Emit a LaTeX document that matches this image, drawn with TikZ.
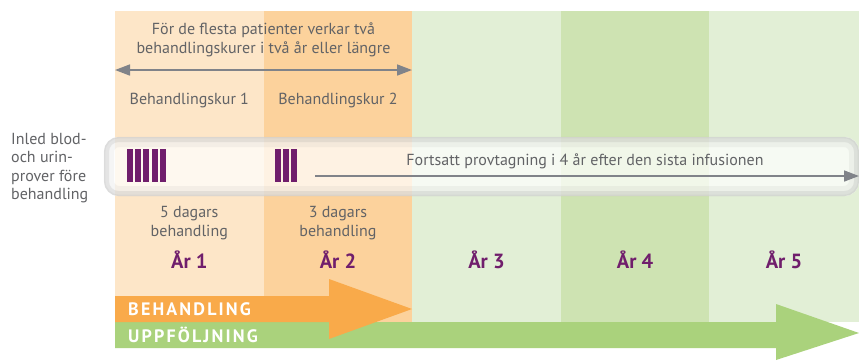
\documentclass[tikz,border=0pt]{standalone}
\usepackage{fontspec}
\setmainfont{PT Sans}
\newfontfamily\capsfont[LetterSpace=12]{PT Sans}
\usetikzlibrary{arrows.meta}
\definecolor{peachA}{HTML}{FDE6C8}
\definecolor{peachB}{HTML}{FCD29C}
\definecolor{greenA}{HTML}{E2EFD6}
\definecolor{greenB}{HTML}{CEE3B2}
\definecolor{txtgray}{HTML}{626366}
\definecolor{arrgray}{HTML}{808389}
\definecolor{plum}{HTML}{701E6C}
\definecolor{orangebar}{HTML}{F9AA4A}
\definecolor{greenbar}{HTML}{AAD27C}
\tikzset{
  lbl/.style={text=txtgray, font=\fontsize{16}{18.5}\selectfont, align=center, inner sep=0pt},
  year/.style={text=plum, font=\fontsize{20.5}{21}\selectfont\bfseries, inner sep=0pt},
  bar/.style={fill=plum, draw=none},
  flow/.style={text=white, font=\fontsize{18}{18}\selectfont\bfseries\capsfont, inner sep=0pt, anchor=west},
  arrtip/.tip={Triangle[length=15pt,width=11pt]},
  span/.style={draw=arrgray, line width=1.6pt},
}
\begin{document}
\begin{tikzpicture}[x=1pt,y=-1pt]
\useasboundingbox[fill=white] (0,0) rectangle (859,360);
% year columns
\fill[peachA] (115,11) rectangle (263.6,322);
\fill[peachB] (263.6,11) rectangle (412.2,322);
\fill[greenA] (412.2,11) rectangle (560.8,322);
\fill[greenB] (560.8,11) rectangle (709.4,322);
\fill[greenA] (709.4,11) rectangle (859,322);
% sample band: translucent tube with soft grey rim
\fill[white, fill opacity=0.72, rounded corners=14] (104,137) rectangle (859,196);
\draw[gray, draw opacity=0.08, line width=10pt, rounded corners=10] (109,142) rectangle (854,191);
\draw[gray, draw opacity=0.14, line width=5pt, rounded corners=12] (106.5,139.5) rectangle (856.5,193.5);
\draw[gray, draw opacity=0.08, line width=1.5pt, rounded corners=14] (104.7,137.7) rectangle (858.3,195.3);
% treatment days
\foreach \i in {0,...,4} \fill[bar] (127+8.2*\i,149) rectangle ++(6,33);
\foreach \i in {0,...,2} \fill[bar] (275+8.2*\i,149) rectangle ++(6,33);
% top span
\coordinate (tl) at (115,70);
\coordinate (tr) at (412,70);
\draw[span, arrtip-arrtip] (tl) -- (tr);
\node[lbl] (top) at (263.5,40) {För de flesta patienter verkar två\\behandlingskurer i två år eller längre};
\node[lbl] (k1) at (189.3,100) {Behandlingskur 1};
\node[lbl] (k2) at (338,100) {Behandlingskur 2};
% follow-up span
\coordinate (fl) at (315,176);
\coordinate (fr) at (859,176);
\draw[span, -arrtip] (fl) -- (fr);
\node[lbl] (fu) at (585,161) {Fortsatt provtagning i 4 år efter den sista infusionen};
% left note
\node[lbl, align=left, anchor=north west] (pre) at (11,133) {Inled blod-\\och urin-\\prover före\\behandling};
% course lengths
\node[lbl] (d1) at (189.3,223) {5 dagars\\behandling};
\node[lbl] (d2) at (338,223) {3 dagars\\behandling};
% years
\node[year] (y1) at (189.3,260) {År 1};
\node[year] (y2) at (338,260) {År 2};
\node[year] (y3) at (486.5,260) {År 3};
\node[year] (y4) at (635.1,260) {År 4};
\node[year] (y5) at (784,260) {År 5};
% flow arrows
\fill[greenbar] (115,322) -- (776,322) -- (776,304) -- (859,333) -- (776,360) -- (776,348) -- (115,348) -- cycle;
\fill[orangebar] (115,296) -- (329,296) -- (329,279) -- (412,309) -- (329,339) -- (329,322) -- (115,322) -- cycle;
\node[flow] (beh) at (128,309) {BEHANDLING};
\node[flow] (upp) at (128,335) {UPPFÖLJNING};
\end{tikzpicture}
\end{document}
